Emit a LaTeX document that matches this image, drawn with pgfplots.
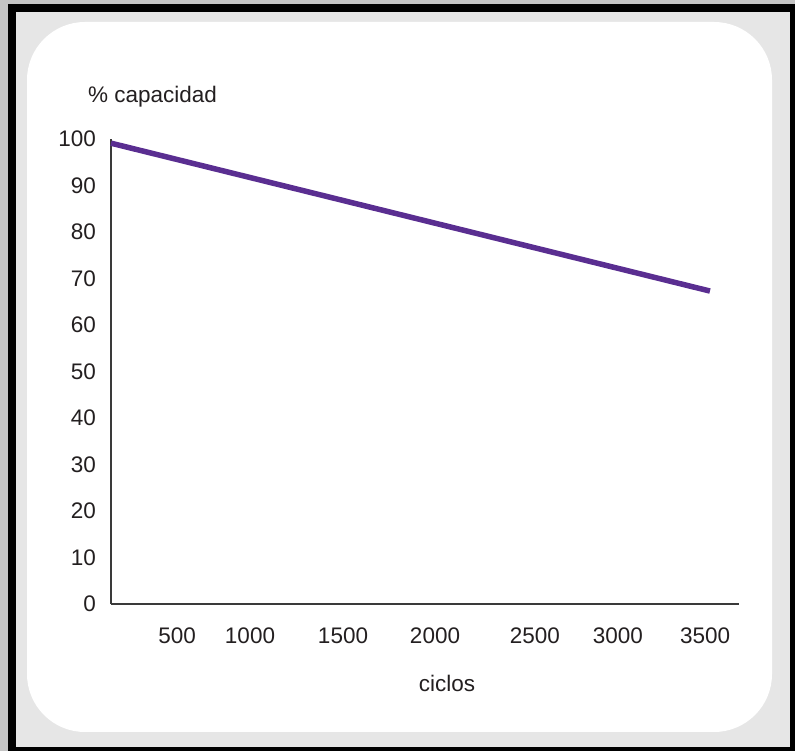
\documentclass[border=0pt]{standalone}
\usepackage{pgfplots}
\pgfplotsset{compat=1.18}
\usepackage{fontspec}
\setmainfont{Liberation Sans}
\definecolor{frameGray}{HTML}{E6E6E6}
\definecolor{lineViolet}{HTML}{5A2E91}
\definecolor{inkDark}{HTML}{231F20}
\definecolor{axisDark}{HTML}{3A3A3A}
\newcommand\chartfont{\fontsize{22.5bp}{26bp}\selectfont}
\begin{document}
\begin{tikzpicture}
  \path[use as bounding box] (0bp,0bp) rectangle (795bp,751bp);
  % panel: thin outer strip, black frame, grey mat, white rounded card
  \fill[frameGray!85!black] (0bp,0bp) rectangle (795bp,751bp);
  \fill[black] (8bp,0bp) rectangle (795bp,747bp);
  \fill[frameGray] (16bp,4bp) rectangle (790bp,739bp);
  \fill[white, rounded corners=58bp] (27bp,19bp) rectangle (772bp,729bp);

  \begin{axis}[
    at={(111bp,147bp)}, anchor=origin,
    scale only axis, width=628bp, height=465bp,
    xmin=0, xmax=3700, ymin=0, ymax=100,
    axis x line*=bottom, axis y line*=left,
    axis line style={-, draw=axisDark, line width=1.4bp},
    major tick length=0pt,
    xtick={389,819,1367,1909,2498,2987,3500},
    xticklabels={500,1000,1500,2000,2500,3000,3500},
    ytick={0,10,...,100},
    /pgf/number format/assume math mode=true,
    tick label style={font=\chartfont, text=inkDark, inner sep=0pt},
    xticklabel style={anchor=north, yshift=-24bp},
    yticklabel style={anchor=east, xshift=-15bp},
    clip=false,
  ]
    \addplot[lineViolet, line width=5.5bp, line cap=butt] coordinates {
      (0,99.1) (3529,67.3)
    };
  \end{axis}

  \node[anchor=west, inner sep=0pt, text=inkDark, font=\chartfont]
    at (88bp,654bp) {\% capacidad};
  \node[inner sep=0pt, text=inkDark, font=\chartfont]
    at (447bp,68bp) {ciclos};
\end{tikzpicture}
\end{document}
